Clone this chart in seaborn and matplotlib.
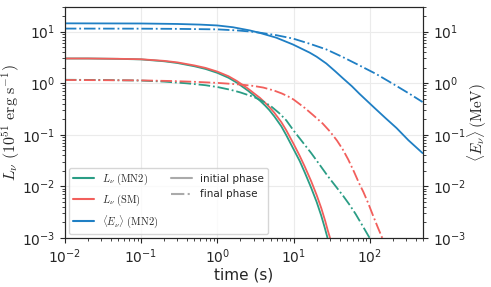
import numpy as np
import pandas as pd
import matplotlib
matplotlib.use('Agg')
import matplotlib.pyplot as plt
from matplotlib.lines import Line2D
import seaborn as sns

# values
t_L_mn2_init = [0.01, 0.02, 0.05, 0.1, 0.2, 0.3, 0.5, 0.7, 1.0, 1.4, 1.8, 2.5, 3.0, 3.6, 4.2, 4.8,
                5.6, 6.9, 8.0, 10, 12, 14, 17, 20, 23, 25.5, 27.8]
L_mn2_init = [3.0, 3.0, 2.95, 2.88, 2.65, 2.45, 2.12, 1.88, 1.58, 1.27, 1.02, 0.72, 0.58, 0.46, 0.37, 0.30,
              0.225, 0.145, 0.098, 0.052, 0.031, 0.0185, 0.0093, 0.005, 0.0027, 0.0016, 0.001]

t_L_sm_init = [0.01, 0.02, 0.05, 0.1, 0.2, 0.3, 0.5, 0.7, 1.0, 1.4, 1.8, 2.5, 3.0, 3.6, 4.2, 4.8,
               5.6, 6.9, 8.0, 10, 12, 14, 17, 20, 23, 26, 28, 30]
L_sm_init = [3.0, 3.0, 2.96, 2.9, 2.7, 2.52, 2.2, 1.97, 1.67, 1.36, 1.1, 0.79, 0.64, 0.52, 0.42, 0.345,
             0.265, 0.175, 0.122, 0.066, 0.039, 0.024, 0.0125, 0.0068, 0.0038, 0.0021, 0.0014, 0.001]

t_L_mn2_fin = [0.01, 0.03, 0.1, 0.2, 0.4, 0.7, 1.0, 1.5, 2.0, 3.0, 4.0, 5.0, 6.5, 8.0, 10, 13, 17,
               22, 28, 36, 45, 54, 65, 80, 99]
L_mn2_fin = [1.16, 1.15, 1.12, 1.07, 0.99, 0.91, 0.84, 0.74, 0.66, 0.54, 0.44, 0.36, 0.26, 0.19, 0.12, 0.073, 0.044,
             0.026, 0.0158, 0.0098, 0.0064, 0.0044, 0.0029, 0.00172, 0.001]

t_L_sm_fin = [0.01, 0.03, 0.1, 0.24, 0.5, 1.0, 2.0, 3.0, 4.0, 5.5, 7.0, 8.5, 10, 14, 18, 24, 30, 37,
              44, 52, 62, 72, 82, 95, 110, 128, 145]
L_sm_fin = [1.15, 1.14, 1.13, 1.1, 1.06, 1.01, 0.94, 0.88, 0.82, 0.72, 0.63, 0.55, 0.48, 0.33, 0.24, 0.165, 0.115, 0.077,
            0.052, 0.033, 0.019, 0.0115, 0.0078, 0.0047, 0.0027, 0.00155, 0.001]

t_E_init = [0.01, 0.1, 0.3, 0.6, 1.0, 1.6, 2.66, 3.6, 5.9, 9.8, 16.2, 20, 26.8, 35, 44, 58, 73, 95,
            115, 160, 223, 320, 490]
E_init = [14.4, 14.3, 14.0, 13.6, 13.1, 12.1, 10.5, 9.4, 7.6, 5.6, 3.9, 3.25, 2.4, 1.7, 1.25, 0.87, 0.62, 0.43,
          0.33, 0.21, 0.135, 0.078, 0.044]

t_E_fin = [0.01, 0.1, 0.3, 1.0, 1.8, 2.66, 3.6, 5.9, 9.8, 16.2, 26.8, 44, 73, 121, 200, 331, 490]
E_fin = [11.4, 11.35, 11.25, 11.0, 10.5, 10.0, 9.5, 8.5, 7.3, 5.8, 4.5, 3.2, 2.2, 1.5, 0.97, 0.62, 0.43]

c_mn2 = '#2a9d85'
c_sm = '#f25f5c'
c_E = '#1f7fc4'

sns.set_style('ticks')
plt.rcParams['mathtext.fontset'] = 'cm'
plt.rcParams['font.family'] = ['DejaVu Sans']

fig = plt.figure(figsize=(4.91, 2.87), dpi=100)
ax = fig.add_axes([0.132, 0.171, 0.730, 0.805])
ax2 = ax.twinx()

sns.lineplot(x=t_L_mn2_init, y=L_mn2_init, ax=ax, color=c_mn2, lw=1.3)
sns.lineplot(x=t_L_sm_init, y=L_sm_init, ax=ax, color=c_sm, lw=1.3)
sns.lineplot(x=t_L_mn2_fin, y=L_mn2_fin, ax=ax, color=c_mn2, lw=1.3, ls='-.')
sns.lineplot(x=t_L_sm_fin, y=L_sm_fin, ax=ax, color=c_sm, lw=1.3, ls='-.')
sns.lineplot(x=t_E_init, y=E_init, ax=ax2, color=c_E, lw=1.3)
sns.lineplot(x=t_E_fin, y=E_fin, ax=ax2, color=c_E, lw=1.3, ls='-.')

for a in (ax, ax2):
    a.set_xscale('log')
    a.set_yscale('log')
    a.set_xlim(1e-2, 500)
    a.set_ylim(1e-3, 30)
    a.tick_params(labelsize=10, direction='out', length=3.5)
    a.tick_params(which='minor', length=2)

ax.grid(True, which='major', color='#ebebeb', lw=0.8)
ax.set_axisbelow(True)
ax.set_xlabel('time (s)', fontsize=11, labelpad=1)
ax.set_ylabel(r'$L_\nu\ (10^{51}\ \mathrm{erg\ s^{-1}})$', fontsize=11.5, labelpad=0)
ax2.set_ylabel(r'$\langle E_\nu \rangle\,(\mathrm{MeV})$', fontsize=11, labelpad=0)

handles = [
    Line2D([], [], color=c_mn2, lw=1.5),
    Line2D([], [], color=c_sm, lw=1.5),
    Line2D([], [], color=c_E, lw=1.5),
    Line2D([], [], color='#aaaaaa', lw=1.5),
    Line2D([], [], color='#aaaaaa', lw=1.5, ls='-.'),
]
labels = [
    r'$L_\nu\ \mathrm{(MN2)}$',
    r'$L_\nu\ \mathrm{(SM)}$',
    r'$\langle E_\nu \rangle\ \mathrm{(MN2)}$',
    'initial phase',
    'final phase',
]
ax2.legend(handles, labels, ncol=2, loc='lower left', fontsize=7.5,
           frameon=True, handlelength=2.0, columnspacing=1.2,
           borderaxespad=0.4, labelspacing=0.5, borderpad=0.4)

fig.savefig('out.png', dpi=100)
